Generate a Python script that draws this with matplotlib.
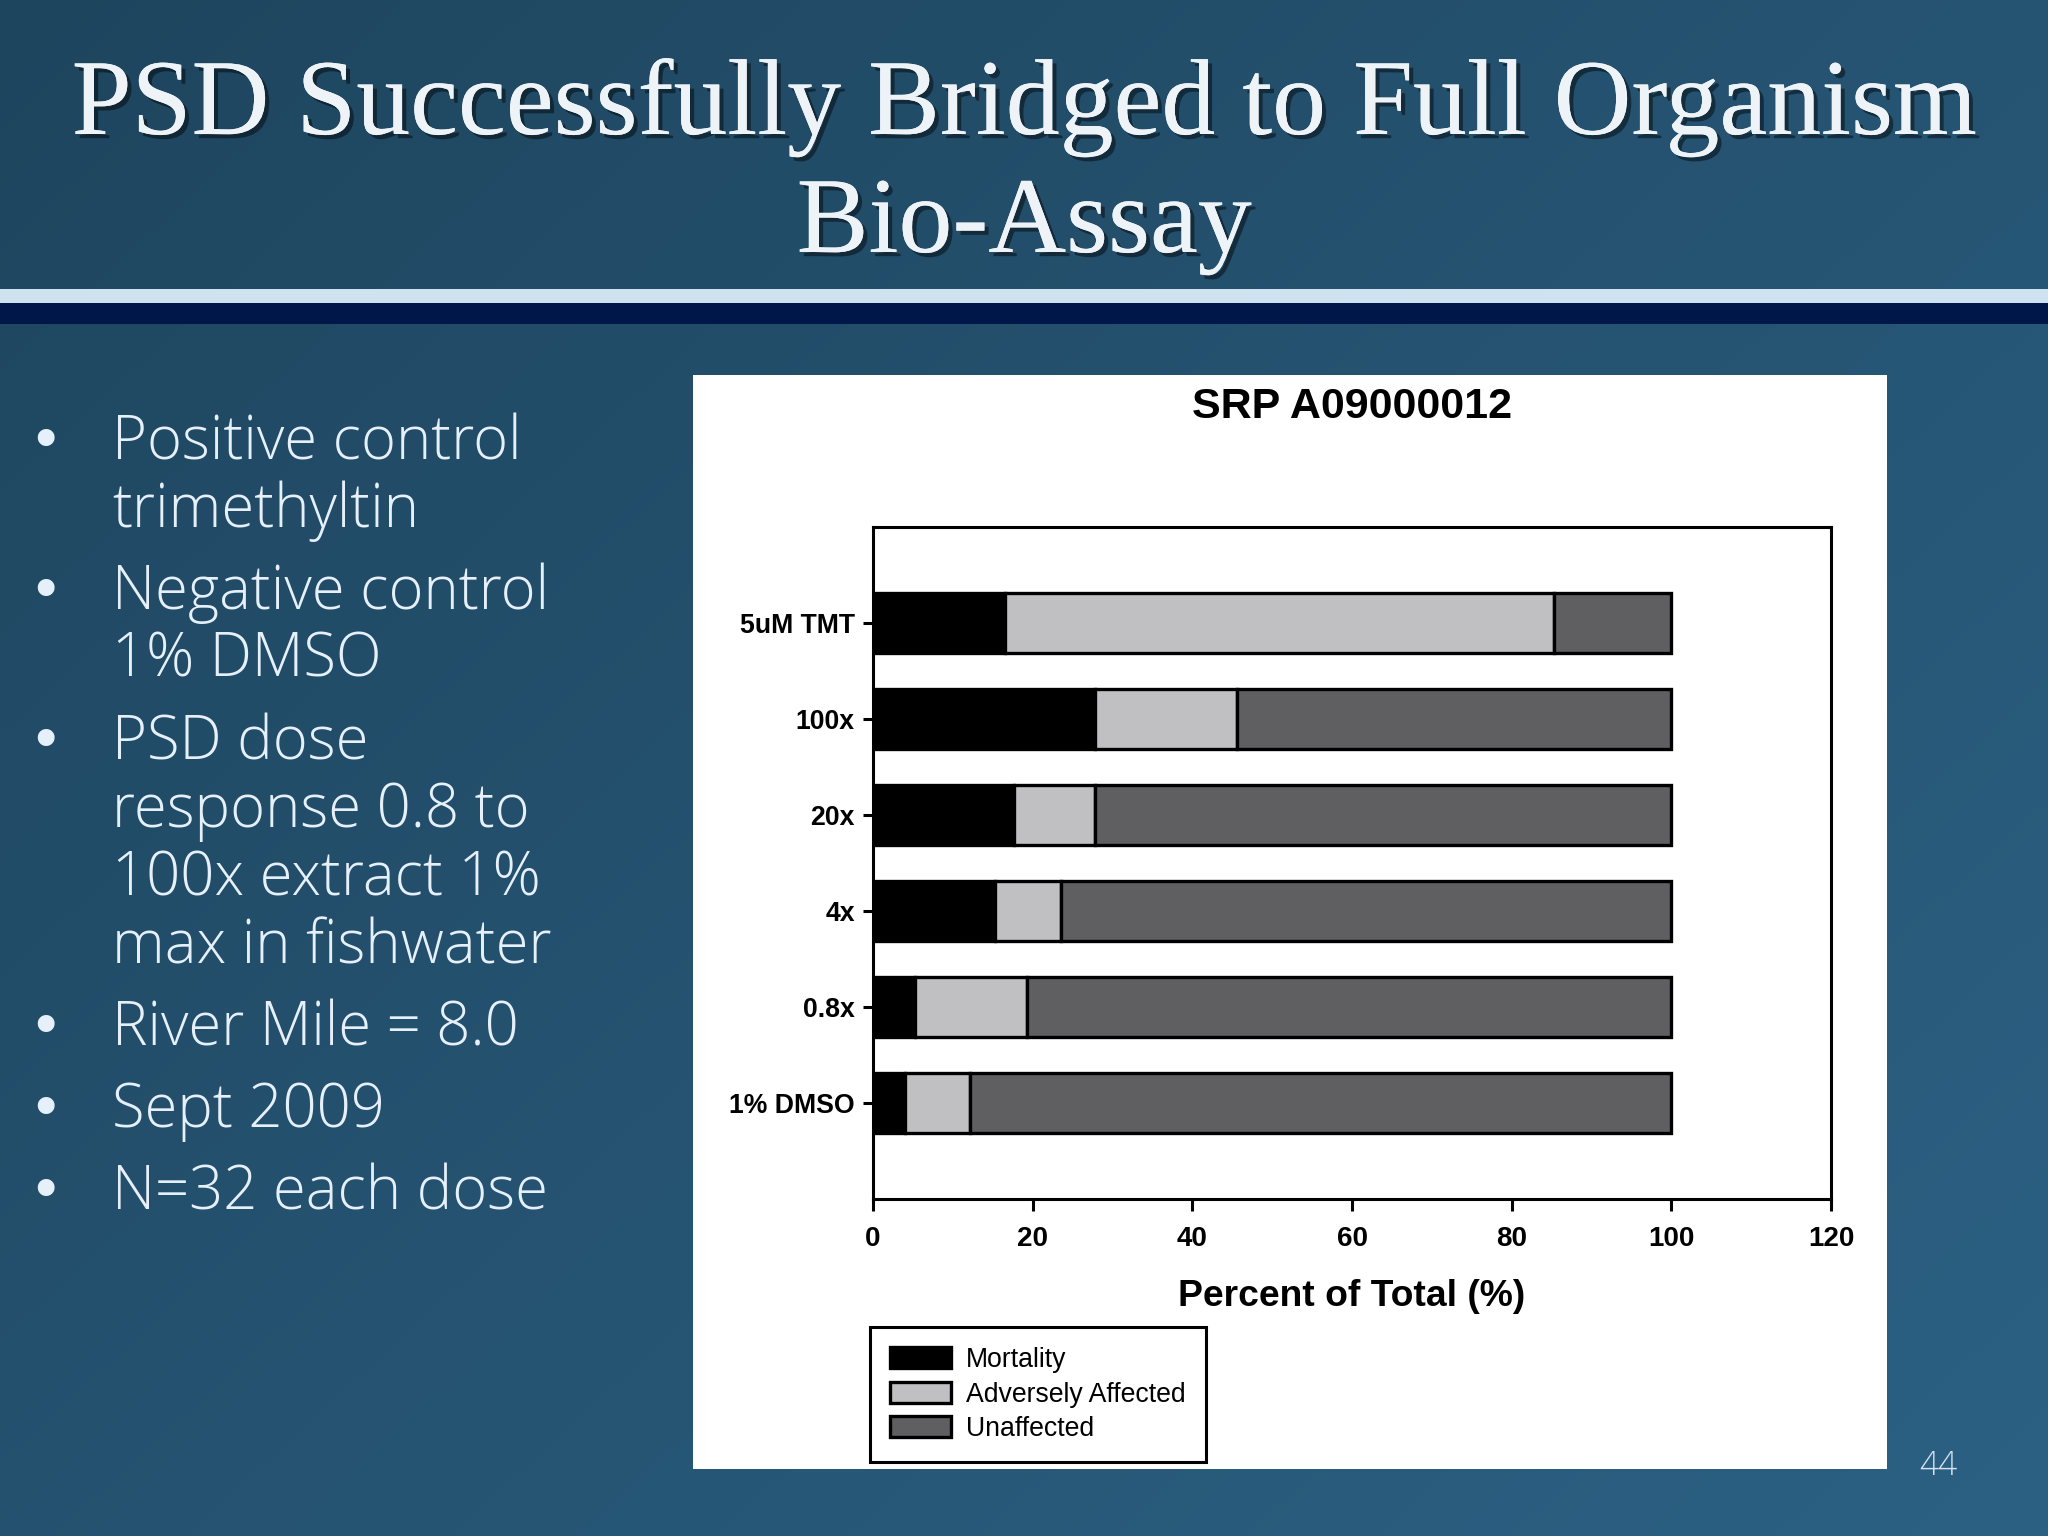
import matplotlib
matplotlib.use("Agg")
import matplotlib.pyplot as plt
import matplotlib.patheffects as pe
from matplotlib import font_manager
import numpy as np

# ---- data ----
doses = ["1% DMSO", "0.8x", "4x", "20x", "100x", "5uM TMT"]
mortality = [4.0, 5.3, 15.3, 17.7, 27.8, 16.5]
adversely = [8.2, 14.0, 8.2, 10.1, 17.8, 68.8]
unaffected = [87.8, 80.7, 76.5, 72.2, 54.4, 14.7]
series_names = ["Mortality", "Adversely Affected", "Unaffected"]
series_colors = ["#000000", "#c0c0c2", "#5f5f62"]
x_ticks = [0, 20, 40, 60, 80, 100, 120]

title_lines = ["PSD Successfully Bridged to Full Organism", "Bio-Assay"]
bullets = [
    ["Positive control", "trimethyltin"],
    ["Negative control", "1% DMSO"],
    ["PSD dose", "response 0.8 to", "100x extract 1%", "max in fishwater"],
    ["River Mile = 8.0"],
    ["Sept 2009"],
    ["N=32 each dose"],
]
chart_title = "SRP A09000012"
x_label = "Percent of Total (%)"
page_no = "44"

W, H = 2048, 1536
DPI = 200

installed = {f.name for f in font_manager.fontManager.ttflist}
narrow = [f for f in ["Liberation Sans Narrow", "Liberation Sans", "DejaVu Sans"] if f in installed]
serif = [f for f in ["Liberation Serif", "DejaVu Serif"] if f in installed]
light = [f for f in ["Open Sans", "Lato", "DejaVu Sans"] if f in installed]


def fx(px):
    return px / W


def fy(py):
    return 1 - py / H


fig = plt.figure(figsize=(W / DPI, H / DPI), dpi=DPI)

# slide background: soft blue gradient
bg = fig.add_axes([0, 0, 1, 1])
gx, gy = np.meshgrid(np.linspace(0, 1, 256), np.linspace(0, 1, 192))
t = np.clip(0.55 * gx + 0.45 * gy, 0, 1)
c0 = np.array([0x1e, 0x45, 0x5e]) / 255
c1 = np.array([0x2c, 0x61, 0x84]) / 255
img = c0[None, None, :] * (1 - t[..., None]) + c1[None, None, :] * t[..., None]
bg.imshow(img, extent=[0, 1, 0, 1], aspect="auto", origin="upper")
bg.set_xlim(0, 1)
bg.set_ylim(0, 1)
bg.axis("off")

# header stripes
bg.axhspan(fy(303), fy(289), color="#cfe2ef", lw=0)
bg.axhspan(fy(324), fy(303), color="#00174a", lw=0)

# slide title
shadow = [pe.withSimplePatchShadow(offset=(1.5, -1.5), shadow_rgbFace="black", alpha=0.45), pe.Normal()]
for line, base in zip(title_lines, [134, 252]):
    fig.text(0.5, fy(base), line, ha="center", va="baseline", color="#eef3f8",
             family=serif, fontsize=38.8, path_effects=shadow)

# bullet list
base = 459
for group in bullets:
    fig.text(fx(45), fy(base - 17), "\u2022", ha="center", va="center", color="#e6f0fa",
             family="DejaVu Sans", fontsize=21)
    for line in group:
        fig.text(fx(112), fy(base), line, ha="left", va="baseline", color="#e6f0fa",
                 family=light, fontweight="light", fontsize=21.5)
        base += 68
    base += 14

fig.text(fx(1938), fy(1466), page_no, ha="center", va="center", color="#d4e4f2",
         family=light, fontweight="light", fontsize=12)

# white chart panel
panel = fig.add_axes([fx(693), fy(1469), fx(1887) - fx(693), (1469 - 375) / H])
panel.set_facecolor("white")
panel.set_xticks([])
panel.set_yticks([])
for s in panel.spines.values():
    s.set_visible(False)

ax = fig.add_axes([fx(873), fy(1199), fx(1831) - fx(873), (1199 - 527) / H])
ax.set_facecolor("white")
y = np.arange(len(doses))
left = np.zeros(len(doses))
for vals, name, col in zip([mortality, adversely, unaffected], series_names, series_colors):
    ax.barh(y, vals, left=left, height=0.62, color=col, edgecolor="black",
            linewidth=1.2, label=name)
    left += np.array(vals)

ax.set_xlim(0, 120)
ax.set_ylim(-1, len(doses))
ax.set_xticks(x_ticks)
ax.set_yticks(y)
ax.set_yticklabels(doses)
for s in ax.spines.values():
    s.set_linewidth(1.1)
ax.tick_params(axis="x", length=4.3, width=1.1, pad=5.5)
ax.tick_params(axis="y", length=3.6, width=1.1, pad=3)
for lab in ax.get_xticklabels():
    lab.set_family(narrow)
    lab.set_fontweight("bold")
    lab.set_fontsize(10)
for lab in ax.get_yticklabels():
    lab.set_family(narrow)
    lab.set_fontweight("bold")
    lab.set_fontsize(9.6)

ax.set_title(chart_title, family=narrow, fontweight="bold", fontsize=15.5,
             y=1 + (527 - 407) / 672, va="center", pad=0)
ax.set_xlabel(x_label, family=narrow, fontweight="bold", fontsize=13.4)
ax.xaxis.set_label_coords(0.5, -(1297 - 1199) / 672)
ax.xaxis.label.set_va("center")

leg = ax.legend(loc="upper left", bbox_to_anchor=(fx(870), fy(1327)),
                bbox_transform=fig.transFigure, borderaxespad=0, fancybox=False,
                framealpha=1, edgecolor="black", prop={"family": narrow, "size": 9.6},
                handlelength=2.3, handleheight=0.85, handletextpad=0.55,
                labelspacing=0.32, borderpad=0.75)
leg.get_frame().set_linewidth(1.1)

fig.savefig("out.png", dpi=DPI)
